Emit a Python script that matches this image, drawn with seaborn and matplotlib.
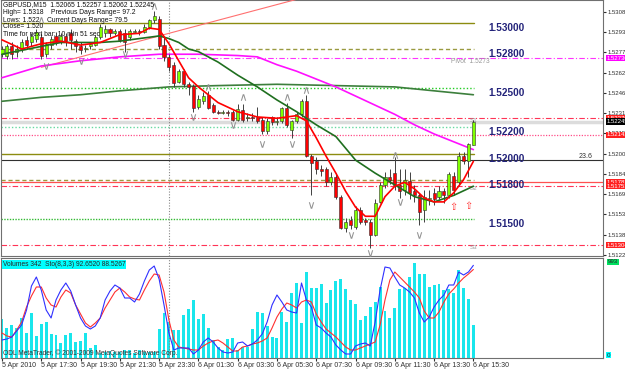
"""GBPUSD M15 chart with moving averages, levels, volumes and stochastic."""
import matplotlib
matplotlib.use("Agg")
import matplotlib.pyplot as plt
import matplotlib.transforms as mtransforms
import seaborn as sns

FIG_W, FIG_H = 625, 370
BULL = "#80ff00"
BEAR = "#ff0000"
WICK = "#404040"
NAVY = "#23237a"
CYAN = "#19e6ec"

# ---- candles (bar 0 = 5 Apr 15:30, one bar every 15 minutes) ----
bar_idx = list(range(97))
opens = [1.5276, 1.5275, 1.5282, 1.5278, 1.5280, 1.5287, 1.5285, 1.5288, 1.5289, 1.5276,
         1.5283, 1.5290, 1.5286, 1.5290, 1.5292, 1.5286, 1.5282, 1.5280, 1.5282, 1.5283,
         1.5289, 1.5292, 1.5295, 1.5292, 1.5294, 1.5292, 1.5289, 1.5293, 1.5294, 1.5293,
         1.5297, 1.5302, 1.5303, 1.5283, 1.5274, 1.5268, 1.5255, 1.5263, 1.5253, 1.5252,
         1.5236, 1.5240, 1.5245, 1.5237, 1.5232, 1.5231, 1.5232, 1.5232, 1.5226, 1.5233,
         1.5227, 1.5228, 1.5228, 1.5226, 1.5217, 1.5228, 1.5224, 1.5225, 1.5235, 1.5218,
         1.5225, 1.5230, 1.5240, 1.5198, 1.5194, 1.5188, 1.5188, 1.5178, 1.5182, 1.5167,
         1.5143, 1.5149, 1.5144, 1.5157, 1.5149, 1.5148, 1.5138, 1.5163, 1.5176, 1.5182,
         1.5185, 1.5176, 1.5172, 1.5179, 1.5171, 1.5168, 1.5157, 1.5165, 1.5170, 1.5167,
         1.5171, 1.5168, 1.5183, 1.5178, 1.5198, 1.5194, 1.52065]
highs = [1.5282, 1.5284, 1.5285, 1.5283, 1.5288, 1.5290, 1.5292, 1.5295, 1.5292, 1.5285,
         1.5290, 1.5293, 1.5292, 1.5292, 1.5295, 1.5288, 1.5285, 1.5283, 1.5285, 1.5291,
         1.5299, 1.5298, 1.5296, 1.5295, 1.5295, 1.5295, 1.5295, 1.5295, 1.5295, 1.5299,
         1.5303, 1.5309, 1.5305, 1.5290, 1.5276, 1.5270, 1.5265, 1.5265, 1.5255, 1.5253,
         1.5245, 1.5247, 1.5248, 1.5239, 1.5233, 1.5233, 1.5233, 1.5233, 1.5238, 1.5238,
         1.5231, 1.5231, 1.5236, 1.5228, 1.5227, 1.5229, 1.5228, 1.5236, 1.5239, 1.5226,
         1.5232, 1.5242, 1.5245, 1.5200, 1.5197, 1.5191, 1.5190, 1.5186, 1.5185, 1.5168,
         1.5151, 1.5152, 1.5160, 1.5159, 1.5151, 1.5150, 1.5165, 1.5178, 1.5186, 1.5188,
         1.5197, 1.5188, 1.5188, 1.5186, 1.5176, 1.5170, 1.5172, 1.5172, 1.5174, 1.5175,
         1.5174, 1.5186, 1.5186, 1.5201, 1.5201, 1.5208, 1.52257]
lows = [1.5274, 1.5272, 1.5272, 1.5274, 1.5278, 1.5280, 1.5282, 1.5285, 1.5272, 1.5274,
        1.5280, 1.5283, 1.5284, 1.5282, 1.5280, 1.5278, 1.5276, 1.5278, 1.5280, 1.5282,
        1.5288, 1.5289, 1.5289, 1.5291, 1.5285, 1.5278, 1.5287, 1.5292, 1.5291, 1.5292,
        1.5295, 1.5300, 1.5280, 1.5271, 1.5263, 1.5251, 1.5254, 1.5251, 1.5245, 1.5232,
        1.5234, 1.5238, 1.5234, 1.5231, 1.5230, 1.5230, 1.5229, 1.5225, 1.5225, 1.5224,
        1.5225, 1.5225, 1.5223, 1.5215, 1.5215, 1.5222, 1.5222, 1.5223, 1.5220, 1.5212,
        1.5223, 1.5228, 1.5197, 1.5168, 1.5184, 1.5183, 1.5175, 1.5176, 1.5165, 1.5142,
        1.5140, 1.5142, 1.5142, 1.5146, 1.5145, 1.5128, 1.5137, 1.5162, 1.5174, 1.5177,
        1.5172, 1.5166, 1.5168, 1.5165, 1.5163, 1.5145, 1.5148, 1.5161, 1.5161, 1.5165,
        1.5162, 1.5166, 1.5168, 1.5175, 1.5192, 1.5182, 1.52062]
closes = [1.5280, 1.5282, 1.5276, 1.5280, 1.5285, 1.5283, 1.5290, 1.5293, 1.5275, 1.5284,
          1.5288, 1.5285, 1.5290, 1.5286, 1.5287, 1.5282, 1.5279, 1.5281, 1.5284, 1.5289,
          1.5297, 1.5295, 1.5292, 1.5294, 1.5287, 1.5285, 1.5294, 1.5294, 1.5293, 1.5297,
          1.5302, 1.5305, 1.5282, 1.5274, 1.5266, 1.5254, 1.5263, 1.5253, 1.5251, 1.5235,
          1.5242, 1.5244, 1.5235, 1.5232, 1.5231, 1.5232, 1.5231, 1.5226, 1.5234, 1.5226,
          1.5228, 1.5227, 1.5225, 1.5217, 1.5225, 1.5224, 1.5225, 1.5235, 1.5222, 1.5225,
          1.5230, 1.5240, 1.5198, 1.5193, 1.5188, 1.5187, 1.5178, 1.5182, 1.5167, 1.5143,
          1.5148, 1.5145, 1.5157, 1.5148, 1.5148, 1.5138, 1.5162, 1.5176, 1.5182, 1.5180,
          1.5176, 1.5171, 1.5180, 1.5170, 1.5168, 1.5155, 1.5167, 1.5166, 1.5165, 1.5171,
          1.5168, 1.5184, 1.5172, 1.5198, 1.5194, 1.5207, 1.52245]

# ---- moving averages, read at selected bars ----
red_ma_idx = [0, 4, 8, 12, 16, 20, 24, 28, 30, 32, 34, 36, 38, 40, 44, 48, 52, 56, 60, 62,
              64, 66, 68, 70, 72, 74, 76, 78, 80, 82, 84, 86, 88, 90, 92, 94, 96]
red_ma = [1.5287, 1.5280, 1.5284, 1.5286, 1.5283, 1.5285, 1.5291, 1.5292, 1.5296, 1.5295,
          1.5284, 1.5271, 1.5258, 1.5251, 1.5239, 1.5232, 1.5228, 1.5227, 1.5229, 1.5225,
          1.5212, 1.5198, 1.5185, 1.5171, 1.5159, 1.5152, 1.5152, 1.5167, 1.5175, 1.5178,
          1.5173, 1.5166, 1.5163, 1.5163, 1.5170, 1.5180, 1.5194]
green_ma_idx = [0, 4, 8, 12, 16, 20, 24, 28, 32, 34, 36, 38, 40, 44, 48, 52, 56, 60, 64,
                68, 72, 76, 80, 84, 88, 92, 96]
green_ma = [1.5276, 1.5279, 1.5282, 1.5285, 1.5285, 1.5285, 1.5286, 1.5288, 1.5290, 1.5288,
            1.5285, 1.5280, 1.5278, 1.5270, 1.5260, 1.5251, 1.5241, 1.5232, 1.5222, 1.5213,
            1.5195, 1.5185, 1.5176, 1.5167, 1.5163, 1.5168, 1.5175]
magenta_ma_idx = [0, 8, 16, 24, 32, 40, 48, 52, 56, 60, 64, 68, 72, 76, 80, 84, 88, 92, 96]
magenta_ma = [1.5258, 1.5267, 1.5271, 1.5274, 1.5276, 1.5276, 1.5275, 1.5274, 1.5268, 1.5263,
              1.5257, 1.5251, 1.5244, 1.5237, 1.5230, 1.5222, 1.5215, 1.5209, 1.5203]
slow_ma_idx = [0, 8, 16, 24, 34, 44, 56, 68, 80, 88, 96]
slow_ma = [1.5240, 1.5243, 1.5245, 1.5248, 1.5251, 1.5252, 1.5253, 1.5252, 1.5251, 1.5248, 1.5245]
trend_idx = [8, 70]
trend_px = [1.5266, 1.5328]

# ---- fractals and arrows ----
frac_up_idx = [8, 31, 42, 49, 58, 62, 80]
frac_up_px = [1.5302, 1.5313, 1.5251, 1.5243, 1.5243, 1.5249, 1.5199]
frac_dn_idx = [9, 16, 25, 39, 47, 53, 59, 63, 71, 75, 81, 85]
frac_dn_px = [1.5267, 1.5271, 1.5276, 1.5228, 1.5222, 1.5207, 1.5207, 1.5161, 1.5138,
              1.5124, 1.5163, 1.5138]
arrow_idx = [92, 95]
arrow_px = [1.5159, 1.5160]

# ---- level lines ----
short_levels = [1.5300, 1.5280, 1.5250, 1.5220, 1.5200, 1.5180, 1.5150]
short_labels = ["1.53000", "1.52800", "1.52500", "1.52200", "1.52000", "1.51800", "1.51500"]
short_colors = ["#8c8c10", "#9a9a40", "#22cc22", "#66d9a0", "#8c8c10", "#9a9a40", "#33bb33"]
short_styles = ["-", (0, (3, 2)), (0, (1, 1.5)), (0, (1, 1.5)), "-", (0, (3, 2)), (0, (1, 1))]
pivot = 1.5273
s_levels = [1.5227, 1.5175, 1.5130]
s_names = ["S1", "S2", "S3"]
red_solid = 1.5178
pink_dotted = 1.52142
fib_236 = 1.5195
bid = 1.52245

right_ticks = [1.53085, 1.52930, 1.52775, 1.52620, 1.52465, 1.52310, 1.52155,
               1.52000, 1.51845, 1.51690, 1.51535, 1.51380, 1.51225]
price_boxes = [(1.5273, "1.52730", "#ff00ff"), (1.5227, "1.52270", "#ff2020"),
               (1.52245, "1.52245", "#000000"), (1.52142, "1.52142", "#ff2020"),
               (1.5178, "1.51782", "#ff2020"), (1.5175, "1.51751", "#ff2020"),
               (1.5130, "1.51304", "#ff2020")]

# ---- volumes and stochastic ----
volumes = [403, 310, 341, 310, 414, 259, 465, 227, 352, 372,
           248, 238, 155, 238, 259, 165, 176, 259, 103, 134,
           52, 62, 72, 62, 62, 83, 83, 52, 83, 62,
           62, 62, 300, 465, 372, 290, 290, 445, 507, 600,
           403, 455, 310, 186, 114, 83, 196, 207, 83, 114,
           114, 300, 476, 465, 331, 217, 207, 476, 372, 672,
           776, 362, 889, 724, 724, 765, 569, 703, 796, 817,
           713, 600, 558, 393, 434, 527, 579, 734, 486, 414,
           517, 713, 724, 838, 982, 869, 869, 734, 755, 765,
           703, 713, 672, 910, 724, 610, 342]
stoch_main = [18, 19, 21, 27, 33, 48, 72, 81, 68, 48,
              40, 58, 68, 75, 67, 53, 40, 32, 29, 32,
              40, 58, 67, 73, 70, 60, 60, 56, 64, 77,
              88, 92, 79, 53, 25, 8, 10, 10, 10, 4,
              8, 16, 20, 16, 10, 6, 5, 6, 15, 16,
              12, 14, 18, 24, 36, 53, 63, 56, 48, 46,
              45, 75, 58, 51, 33, 30, 25, 21, 13, 8,
              4, 4, 12, 14, 15, 12, 36, 68, 91, 90,
              81, 73, 70, 66, 60, 45, 36, 41, 51, 58,
              63, 73, 73, 86, 83, 86, 92.65]
stoch_signal = [25, 22, 21, 28, 36, 51, 62, 71, 71, 60,
                53, 51, 61, 68, 65, 53, 44, 35, 31, 35,
                40, 50, 58, 66, 70, 66, 61, 59, 58, 68,
                77, 84, 83, 66, 38, 18, 11, 10, 9, 8,
                8, 12, 15, 17, 18, 15, 11, 7, 7, 11,
                12, 14, 15, 17, 20, 30, 41, 49, 55, 53,
                50, 56, 58, 56, 44, 36, 29, 25, 21, 16,
                11, 8, 8, 10, 12, 14, 16, 33, 58, 78,
                86, 81, 76, 71, 66, 60, 47, 40, 40, 46,
                56, 64, 69, 75, 80, 84, 88.53]

xtick_idx = [0, 8, 16, 24, 32, 40, 48, 56, 64, 72, 80, 88, 96]
xtick_labels = ["5 Apr 2010", "5 Apr 17:30", "5 Apr 19:30", "5 Apr 21:30", "5 Apr 23:30",
                "6 Apr 01:30", "6 Apr 03:30", "6 Apr 05:30", "6 Apr 07:30", "6 Apr 09:30",
                "6 Apr 11:30", "6 Apr 13:30", "6 Apr 15:30"]
day_break = 34

header = ["GBPUSD,M15  1.52065 1.52257 1.52062 1.52245",
          "High= 1.5318    Previous Days Range= 97.2",
          "Lows: 1.522    Current Days Range= 79.5",
          "Close= 1.520",
          "Time for next bar: 10 min 51 sec"]
header_y = [5, 13, 20, 27, 34]

sns.set_style("white")
plt.rcParams["font.family"] = ["Liberation Sans", "DejaVu Sans"]


def _style_frame(ax):
    for side in ["left", "right", "top", "bottom"]:
        ax.spines[side].set_color("#707070")
        ax.spines[side].set_linewidth(0.8)


fig = plt.figure(figsize=(FIG_W / 100, FIG_H / 100), dpi=100)
ax = fig.add_axes([1 / FIG_W, 1 - 256 / FIG_H, 602 / FIG_W, 256 / FIG_H])
axv = fig.add_axes([1 / FIG_W, 12 / FIG_H, 602 / FIG_W, 100 / FIG_H])
xlim = (-0.2, 122.4)

# ---------------- main price panel ----------------
ax.axhline(bid, color="#dcdcdc", linewidth=2.5, zorder=1)
for lvl, col, ls in zip(short_levels, short_colors, short_styles):
    ax.plot([xlim[0], 96.2], [lvl, lvl], color=col, linestyle=ls, linewidth=1.0, zorder=2)
ax.axhline(pivot, color="#ff33ff", linestyle=(0, (5, 2, 1, 2)), linewidth=0.8, zorder=2)
for lvl in s_levels:
    ax.axhline(lvl, color="#ff3355", linestyle=(0, (5, 2, 1, 2)), linewidth=0.8, zorder=2)
ax.axhline(red_solid, color="#ff5050", linewidth=0.9, zorder=2)
ax.axhline(pink_dotted, color="#ff4d88", linestyle=(0, (1, 1.2)), linewidth=0.9, zorder=2)
ax.axhline(fib_236, color="#303030", linewidth=0.8, zorder=2)
ax.axvline(day_break, color="#888888", linestyle=(0, (1, 1.5)), linewidth=0.8, zorder=2)

sns.lineplot(x=trend_idx, y=trend_px, color="#ff7070", linewidth=0.8, ax=ax, zorder=3)
sns.lineplot(x=slow_ma_idx, y=slow_ma, color="#3c7f3c", linewidth=1.2, ax=ax, zorder=3)
sns.lineplot(x=magenta_ma_idx, y=magenta_ma, color="#ff10ff", linewidth=1.2, ax=ax, zorder=3)
sns.lineplot(x=green_ma_idx, y=green_ma, color="#1f6f1f", linewidth=1.2, ax=ax, zorder=6)
sns.lineplot(x=red_ma_idx, y=red_ma, color="#ff0000", linewidth=1.2, ax=ax, zorder=6)

ax.vlines(bar_idx, lows, highs, color=WICK, linewidth=0.7, zorder=4)
body_low = [min(o, c) for o, c in zip(opens, closes)]
body_h = [max(abs(c - o), 0.00003) for o, c in zip(opens, closes)]
body_col = [BULL if c >= o else BEAR for o, c in zip(opens, closes)]
ax.bar(bar_idx, body_h, bottom=body_low, width=0.62, color=body_col,
       edgecolor="#303030", linewidth=0.4, zorder=5)

sns.scatterplot(x=frac_up_idx, y=frac_up_px, marker=r"$\wedge$", s=22, color="#909090",
                linewidth=0, ax=ax, zorder=7)
sns.scatterplot(x=frac_dn_idx, y=frac_dn_px, marker=r"$\vee$", s=22, color="#909090",
                linewidth=0, ax=ax, zorder=7)
for i, p in zip(arrow_idx, arrow_px):
    ax.text(i, p, "\u21e7", color="#ff3030", fontsize=7, ha="center", va="center",
            family="DejaVu Sans", zorder=7)

for lvl, lab in zip(short_levels, short_labels):
    ax.text(99, lvl, lab, color=NAVY, fontsize=7.2, fontweight="bold", ha="left",
            va="top", zorder=8)
ax.text(91.5, pivot, "Pivot  1.5273", color="#999999", fontsize=4.8, ha="left", va="top")
for lvl, name in zip(s_levels, s_names):
    ax.text(96, lvl, name, color="#999999", fontsize=4.5, ha="center", va="top")
ax.text(120.3, fib_236, "23.6", color="#303030", fontsize=5, ha="right", va="bottom")

ax.set_xlim(*xlim)
ax.set_ylim(1.51216, 1.53175)
ax.set_xticks([])
ax.yaxis.tick_right()
ax.set_yticks(right_ticks)
ax.set_yticklabels([f"{t:.5f}" for t in right_ticks])
ax.tick_params(axis="y", labelsize=4.3, length=2, pad=1.2, colors="#303030")
ax.set_xlabel("")
ax.set_ylabel("")
_style_frame(ax)

box_tr = mtransforms.blended_transform_factory(ax.transAxes, ax.transData)
for p, lab, col in price_boxes:
    ax.text(1.006, p, lab, transform=box_tr, fontsize=4.3, color="white", ha="left",
            va="center", clip_on=False, zorder=9,
            bbox=dict(boxstyle="square,pad=0.12", fc=col, ec="none"))

# header text
for txt, yy in zip(header, header_y):
    fig.text(3 / FIG_W, 1 - yy / FIG_H, txt, fontsize=4.9, va="center", ha="left",
             color="#101010")

# ---------------- volumes + stochastic panel ----------------
sns.barplot(x=bar_idx, y=volumes, native_scale=True, width=0.6, color=CYAN, saturation=1,
            errorbar=None, linewidth=0, ax=axv)
axv.set_xlim(*xlim)
axv.set_ylim(0, 1034)
axv.axvline(day_break, color="#888888", linestyle=(0, (1, 1.5)), linewidth=0.8)
axv.set_yticks([])
axv.set_xticks(xtick_idx)
axv.set_xticklabels(xtick_labels, ha="left")
axv.tick_params(axis="x", labelsize=5, length=2, pad=1, colors="#303030", bottom=True)
axv.set_xlabel("")
axv.set_ylabel("")
_style_frame(axv)

axs = axv.twinx()
sns.lineplot(x=bar_idx, y=stoch_signal, color="#ff3030", linewidth=0.8, ax=axs)
sns.lineplot(x=bar_idx, y=stoch_main, color="#3030ff", linewidth=0.8, ax=axs)
axs.set_ylim(0, 100)
axs.set_xlim(*xlim)
axs.set_yticks([])
axs.set_ylabel("")
for side in ["left", "right", "top", "bottom"]:
    axs.spines[side].set_visible(False)

axv.text(0.003, 0.94, "Volumes 342  Sto(8,3,3) 92.6520 88.5267", transform=axv.transAxes,
         fontsize=4.8, ha="left", va="center", zorder=9,
         bbox=dict(boxstyle="square,pad=0.15", fc="#00ffff", ec="none"))
axv.text(0.003, 0.05, "ODL MetaTrader, \u00a9 2001-2009 MetaQuotes Software Corp.",
         transform=axv.transAxes, fontsize=4.8, ha="left", va="center", color="#303030")
vol_tr = mtransforms.blended_transform_factory(axv.transAxes, axv.transData)
axv.text(1.008, 993, "993", transform=vol_tr, fontsize=4.5, ha="left", va="center",
         clip_on=False, bbox=dict(boxstyle="square,pad=0.1", fc="#00e060", ec="none"))
axv.text(1.006, 30, "0", transform=vol_tr, fontsize=4.5, ha="left", va="center",
         clip_on=False, bbox=dict(boxstyle="square,pad=0.1", fc="#00ffff", ec="none"))

fig.savefig("out.png", dpi=100, facecolor="white")
